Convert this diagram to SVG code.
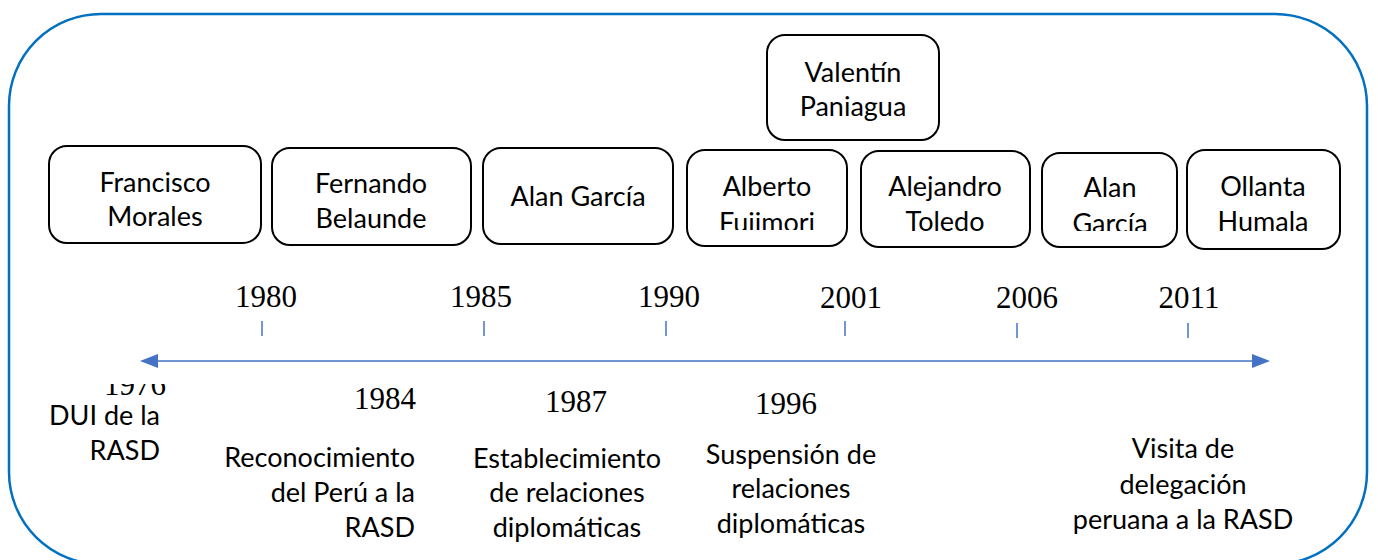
<svg xmlns="http://www.w3.org/2000/svg" width="1378" height="560" viewBox="0 0 1378 560">
<style>
.frame{fill:none;stroke:#0070C0;stroke-width:2.5}
.box{fill:#fff;stroke:#000;stroke-width:2}
.t{font-family:Lato,"Liberation Sans",sans-serif;font-size:27px;fill:#000;text-anchor:middle}
.r{text-anchor:end}
.y{font-family:"Liberation Serif","Times New Roman",serif;font-size:31px;fill:#000;text-anchor:middle}
.tick{stroke:#4472C4;stroke-width:1.5}
.axis{stroke:#4472C4;stroke-width:1.5;fill:none}
.head{fill:#4472C4}
</style>
<defs>
<clipPath id="c4"><rect x="687" y="150" width="160" height="80"/></clipPath>
<clipPath id="c7"><rect x="1042" y="153" width="135" height="78"/></clipPath>
<clipPath id="c76"><rect x="90" y="384" width="90" height="20"/></clipPath>
</defs>
<rect class="frame" x="9" y="14" width="1358" height="550" rx="92" ry="92"/>

<g id="connectors">
<line class="axis" x1="158" y1="361" x2="1252" y2="361"/>
<path class="head" d="M140,361 L158,354 L158,368 Z"/>
<path class="head" d="M1270,361 L1252,354 L1252,368 Z"/>
<line class="tick" x1="262" y1="321" x2="262" y2="336"/>
<line class="tick" x1="484" y1="321" x2="484" y2="336"/>
<line class="tick" x1="666" y1="321" x2="666" y2="336"/>
<line class="tick" x1="845" y1="321" x2="845" y2="336"/>
<line class="tick" x1="1017" y1="323" x2="1017" y2="338"/>
<line class="tick" x1="1188" y1="323" x2="1188" y2="338"/>
</g>

<g id="n-francisco"><rect class="box" x="49" y="146" width="212" height="97" rx="18"/>
<text class="t" x="155" y="192">Francisco</text><text class="t" x="155" y="226">Morales</text></g>
<g id="n-fernando"><rect class="box" x="272" y="148" width="199" height="97" rx="18"/>
<text class="t" x="371" y="193">Fernando</text><text class="t" x="371" y="228">Belaunde</text></g>
<g id="n-alan1"><rect class="box" x="483" y="148" width="190" height="96" rx="18"/>
<text class="t" x="578" y="206">Alan García</text></g>
<g id="n-fujimori"><rect class="box" x="687" y="150" width="160" height="96" rx="18"/>
<g clip-path="url(#c4)"><text class="t" x="767" y="196">Alberto</text><text class="t" x="767" y="232">Fujimori</text></g></g>
<g id="n-paniagua"><rect class="box" x="767" y="35" width="172" height="105" rx="18"/>
<text class="t" x="853" y="82">Valentín</text><text class="t" x="853" y="116">Paniagua</text></g>
<g id="n-toledo"><rect class="box" x="861" y="151" width="169" height="96" rx="18"/>
<text class="t" x="945" y="196">Alejandro</text><text class="t" x="945" y="231">Toledo</text></g>
<g id="n-alan2"><rect class="box" x="1042" y="153" width="135" height="94" rx="18"/>
<g clip-path="url(#c7)"><text class="t" x="1110" y="197">Alan</text><text class="t" x="1110" y="233">García</text></g></g>
<g id="n-ollanta"><rect class="box" x="1187" y="150" width="153" height="99" rx="18"/>
<text class="t" x="1263" y="196">Ollanta</text><text class="t" x="1263" y="231">Humala</text></g>

<g id="years">
<text class="y" x="266" y="307">1980</text>
<text class="y" x="481" y="307">1985</text>
<text class="y" x="669" y="307">1990</text>
<text class="y" x="851" y="308">2001</text>
<text class="y" x="1027" y="308">2006</text>
<text class="y" x="1189" y="308">2011</text>
<text class="y" x="385" y="409">1984</text>
<text class="y" x="576" y="412">1987</text>
<text class="y" x="786" y="414">1996</text>
<g clip-path="url(#c76)"><text class="y" x="135" y="395">1976</text></g>
</g>

<g id="events">
<text class="t r" x="160" y="425">DUI de la</text>
<text class="t r" x="160" y="460">RASD</text>
<text class="t r" x="415" y="467">Reconocimiento</text>
<text class="t r" x="415" y="502">del Perú a la</text>
<text class="t r" x="415" y="537">RASD</text>
<text class="t" x="567" y="468">Establecimiento</text>
<text class="t" x="567" y="502">de relaciones</text>
<text class="t" x="567" y="537">diplomáticas</text>
<text class="t" x="791" y="464">Suspensión de</text>
<text class="t" x="791" y="498">relaciones</text>
<text class="t" x="791" y="533">diplomáticas</text>
<text class="t" x="1183" y="458">Visita de</text>
<text class="t" x="1183" y="494">delegación</text>
<text class="t" x="1183" y="529">peruana a la RASD</text>
</g>
</svg>
